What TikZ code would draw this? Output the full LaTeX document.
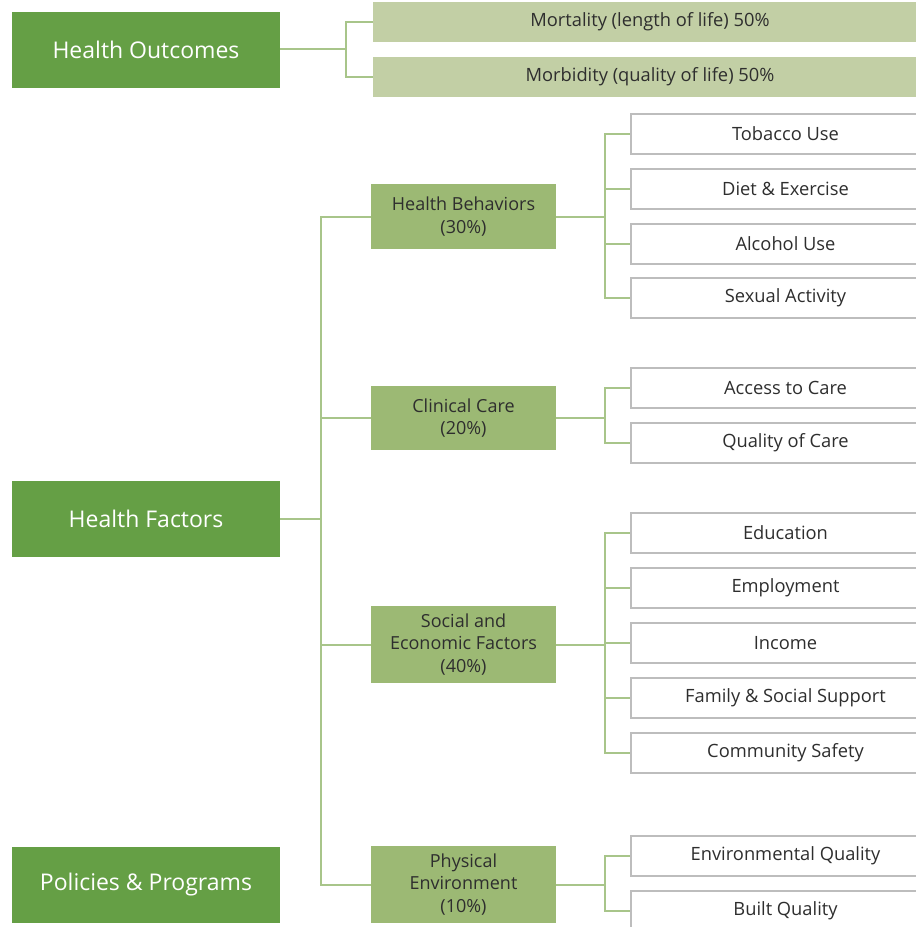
\documentclass[tikz,border=0pt]{standalone}
\usepackage{fontspec}
\setmainfont{Open Sans}
\usetikzlibrary{positioning}
\definecolor{dkgreen}{HTML}{659F45}
\definecolor{midgreen}{HTML}{9CB974}
\definecolor{ltgreen}{HTML}{C2CFA5}
\definecolor{lngreen}{HTML}{A8C58A}
\definecolor{boxgray}{HTML}{BDBDBD}
\definecolor{txtgray}{HTML}{2E2E2E}
\tikzstyle{mainbox}=[fill=dkgreen,text=white,minimum width=268pt,minimum height=76pt,inner sep=0pt,font=\fontsize{23}{27}\selectfont]
\tikzstyle{grp}=[fill=midgreen,text=txtgray,minimum width=185pt,align=center,inner sep=0pt,font=\fontsize{18}{22.5}\selectfont]
\tikzstyle{outc}=[fill=ltgreen,text=txtgray,minimum width=554pt,minimum height=40pt,inner sep=0pt,font=\fontsize{18.3}{22}\selectfont]
\tikzstyle{leaf}=[draw=boxgray,line width=1.2pt,fill=white,text=txtgray,minimum width=309pt,minimum height=40pt,inner sep=0pt,font=\fontsize{18.3}{22}\selectfont]
\tikzstyle{link}=[draw=lngreen,line width=2pt]

\begin{document}
\begin{tikzpicture}[x=1pt,y=-1pt]
\useasboundingbox (0,0) rectangle (916,927);
\clip (0,0) rectangle (916,927);
\fill[white] (0,0) rectangle (916,927);

% left column
\node[mainbox] (ho) at (146,50) {Health Outcomes};
\node[mainbox] (hf) at (146,519) {Health Factors};
\node[mainbox] (pp) at (146,885) {Policies \& Programs};

% outcomes
\node[outc] (mort) at (650,22) {Mortality (length of life) 50\%};
\node[outc] (morb) at (650,77) {Morbidity (quality of life) 50\%};
\coordinate (jo) at (346,49);
\draw[link] (ho.east |- jo) -- (jo) |- (mort.west);
\draw[link] (jo) |- (morb.west);

% factor groups
\node[grp,minimum height=65pt] (hb) at (463.5,216.5) {Health Behaviors\\(30\%)};
\node[grp,minimum height=64pt] (cc) at (463.5,418) {Clinical Care\\(20\%)};
\node[grp,minimum height=77pt] (se) at (463.5,644.5) {Social and\\Economic Factors\\(40\%)};
\node[grp,minimum height=77pt] (pe) at (463.5,884.5) {Physical\\Environment\\(10\%)};
\coordinate (jf) at (321,519);
\draw[link] (hf.east |- jf) -- (jf);
\foreach \g in {hb,cc,se,pe}
  \draw[link] (jf) |- (\g.west);

% leaves
\foreach \g/\n/\y/\t in {hb/1/134/Tobacco Use, hb/2/189/Diet \& Exercise, hb/3/244/Alcohol Use, hb/4/298/Sexual Activity,
                         cc/1/388/Access to Care, cc/2/443/Quality of Care,
                         se/1/533/Education, se/2/588/Employment, se/3/643/Income, se/4/698/Family \& Social Support, se/5/753/Community Safety,
                         pe/1/856/Environmental Quality, pe/2/911/Built Quality} {
  \coordinate (j\g) at (605,0 |- \g.east);
  \draw[link] (\g.east) -- (j\g) |- (785.5,\y);
  \node[leaf] (\g\n) at (785.5,\y) {\t};
}
\end{tikzpicture}
\end{document}
